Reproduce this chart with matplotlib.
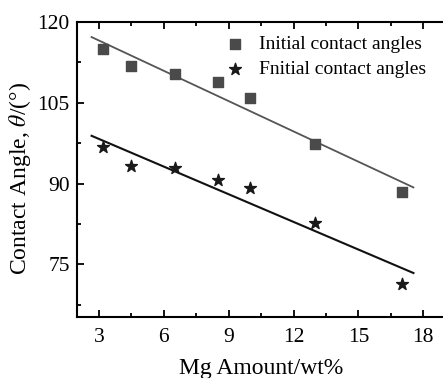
import numpy as np
import matplotlib
matplotlib.use('Agg')
import matplotlib.pyplot as plt
from matplotlib.ticker import MultipleLocator

plt.rcParams['font.family'] = ['Liberation Serif', 'DejaVu Serif']
plt.rcParams['mathtext.fontset'] = 'stix'

# Mg content (wt%) and measured angles
mg = [3.2, 4.5, 6.5, 8.5, 10, 13, 17]
initial_angles = [114.9, 111.75, 110.3, 108.85, 105.9, 97.3, 88.5]
final_angles = [96.7, 93.3, 92.8, 90.7, 89.2, 82.6, 71.3]
fit_range = [2.66, 17.54]

fig = plt.figure(figsize=(4.43, 3.78), dpi=100)
ax = fig.add_axes([0.1745, 0.1605, 0.830, 0.7821])

xf = np.array(fit_range)
k1, b1 = np.polyfit(mg, initial_angles, 1)
k2, b2 = np.polyfit(mg, final_angles, 1)
ax.plot(xf, k1 * xf + b1, color='#555555', lw=1.3)
ax.plot(xf, k2 * xf + b2, color='#111111', lw=1.5)

ax.scatter(mg, initial_angles, marker='s', s=60, color='#4a4a4a',
           label='Initial contact angles', zorder=3)
ax.scatter(mg, final_angles, marker='*', s=80, color='#1a1a1a',
           label='Fnitial contact angles', zorder=3)

ax.set_xlim(2, 19)
ax.set_ylim(65.2, 120)
ax.xaxis.set_major_locator(MultipleLocator(3))
ax.xaxis.set_minor_locator(MultipleLocator(1.5))
ax.yaxis.set_major_locator(MultipleLocator(15))
ax.yaxis.set_minor_locator(MultipleLocator(7.5))
ax.tick_params(which='both', direction='in', top=True, right=False,
               width=1.3, labelsize=15.5)
ax.tick_params(which='major', length=5)
ax.tick_params(which='minor', length=3)
ax.tick_params(axis='x', pad=8)
ax.tick_params(axis='y', pad=5.5)
for s in ax.spines.values():
    s.set_linewidth(1.5)
ax.spines['right'].set_visible(False)

ax.set_xlabel('Mg Amount/wt%', fontsize=17, labelpad=7.5)
ax.set_ylabel(r'Contact Angle, $\theta$/(°)', fontsize=17, labelpad=3)
ax.yaxis.label.set_y(0.47)

ax.legend(loc='upper right', frameon=False, fontsize=14, handlelength=1.5,
          handletextpad=0.45, borderaxespad=0.3, labelspacing=0.4,
          bbox_to_anchor=(0.985, 1.0))

fig.savefig('out.png', dpi=100)
